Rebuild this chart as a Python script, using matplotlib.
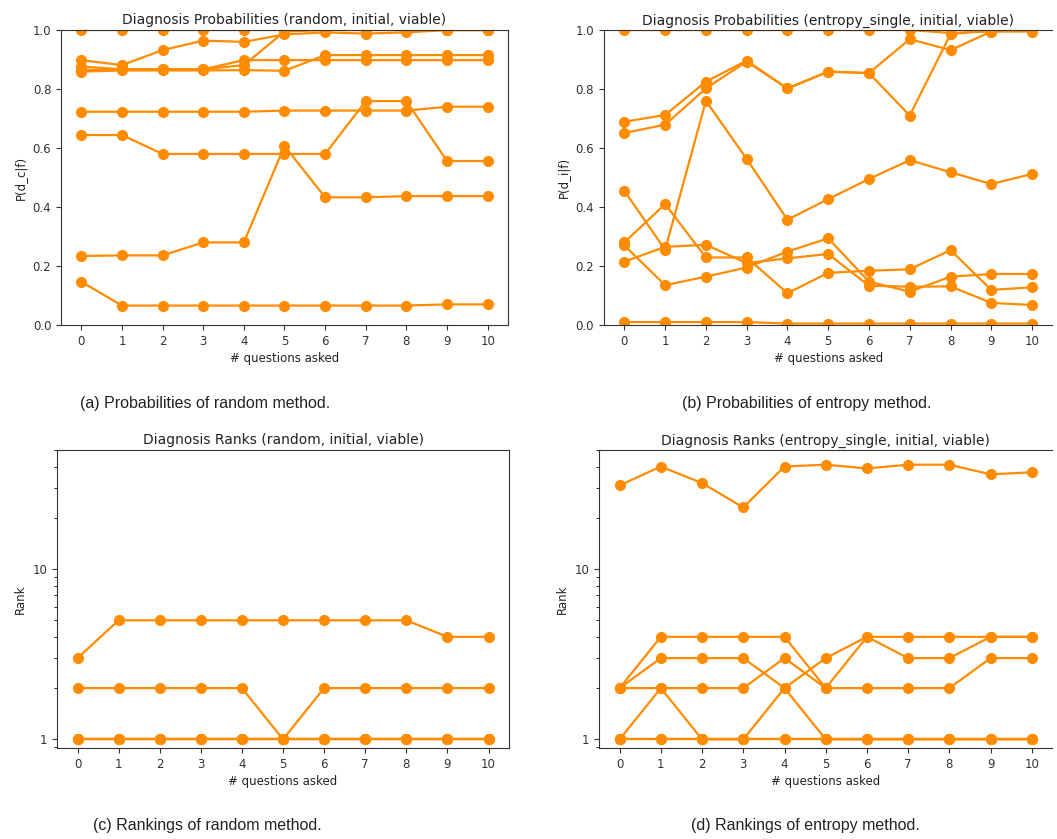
import matplotlib.pyplot as plt
import numpy as np

questions = np.arange(11)

# probabilities, random method
prob_random = [
    [1.0, 1.0, 1.0, 1.0, 1.0, 1.0, 1.0, 1.0, 1.0, 1.0, 1.0],
    [0.898, 0.881, 0.932, 0.964, 0.960, 0.985, 0.992, 0.988, 0.992, 1.0, 1.0],
    [0.876, 0.867, 0.867, 0.867, 0.881, 0.995, 1.0, 1.0, 1.0, 1.0, 1.0],
    [0.864, 0.867, 0.867, 0.867, 0.898, 0.898, 0.898, 0.898, 0.898, 0.898, 0.898],
    [0.859, 0.863, 0.863, 0.863, 0.864, 0.862, 0.915, 0.915, 0.915, 0.915, 0.915],
    [0.723, 0.723, 0.723, 0.723, 0.723, 0.727, 0.727, 0.727, 0.727, 0.740, 0.740],
    [0.644, 0.644, 0.580, 0.580, 0.580, 0.580, 0.580, 0.759, 0.759, 0.556, 0.556],
    [0.234, 0.236, 0.236, 0.280, 0.280, 0.607, 0.433, 0.433, 0.437, 0.437, 0.437],
    [0.147, 0.066, 0.066, 0.066, 0.066, 0.066, 0.066, 0.066, 0.066, 0.070, 0.070],
]

# probabilities, entropy method
prob_entropy = [
    [1.0, 1.0, 1.0, 1.0, 1.0, 1.0, 1.0, 1.0, 0.99, 0.995, 0.995],
    [0.689, 0.712, 0.825, 0.896, 0.802, 0.859, 0.854, 0.969, 0.932, 0.995, 1.0],
    [0.651, 0.679, 0.802, 0.893, 0.802, 0.859, 0.854, 0.710, 0.986, 1.0, 1.0],
    [0.455, 0.255, 0.760, 0.563, 0.357, 0.427, 0.495, 0.559, 0.518, 0.478, 0.512],
    [0.280, 0.410, 0.229, 0.229, 0.108, 0.177, 0.184, 0.189, 0.254, 0.119, 0.128],
    [0.215, 0.265, 0.272, 0.210, 0.226, 0.241, 0.133, 0.130, 0.131, 0.075, 0.068],
    [0.270, 0.135, 0.164, 0.195, 0.249, 0.294, 0.147, 0.113, 0.164, 0.173, 0.173],
    [0.010, 0.010, 0.010, 0.010, 0.005, 0.005, 0.005, 0.005, 0.005, 0.005, 0.005],
]

# ranks, random method
rank_random = [
    [3, 5, 5, 5, 5, 5, 5, 5, 5, 4, 4],
    [2, 2, 2, 2, 2, 1, 2, 2, 2, 2, 2],
    [1, 1, 1, 1, 1, 1, 1, 1, 1, 1, 1],
    [1, 1, 1, 1, 1, 1, 1, 1, 1, 1, 1],
    [1, 1, 1, 1, 1, 1, 1, 1, 1, 1, 1],
]

# ranks, entropy method
rank_entropy = [
    [31, 40, 32, 23, 40, 41, 39, 41, 41, 36, 37],
    [2, 4, 4, 4, 4, 2, 4, 4, 4, 4, 4],
    [2, 3, 3, 3, 2, 3, 4, 3, 3, 4, 4],
    [2, 2, 2, 2, 3, 2, 2, 2, 2, 3, 3],
    [1, 2, 1, 1, 2, 1, 1, 1, 1, 1, 1],
    [1, 1, 1, 1, 1, 1, 1, 1, 1, 1, 1],
    [1, 1, 1, 1, 1, 1, 1, 1, 1, 1, 1],
]

titles = ["Diagnosis Probabilities (random, initial, viable)",
          "Diagnosis Probabilities (entropy_single, initial, viable)",
          "Diagnosis Ranks (random, initial, viable)",
          "Diagnosis Ranks (entropy_single, initial, viable)"]
ylabels = ["P(d_c|f)", "P(d_i|f)", "Rank", "Rank"]
captions = ["(a) Probabilities of random method.",
            "(b) Probabilities of entropy method.",
            "(c) Rankings of random method.",
            "(d) Rankings of entropy method."]

fig = plt.figure(figsize=(10.57, 8.39), dpi=100)
boxes = [[0.0577, 0.6126, 0.4229, 0.3516],
         [0.5714, 0.6126, 0.4243, 0.3516],
         [0.0539, 0.1085, 0.4277, 0.3551],
         [0.5667, 0.1085, 0.4290, 0.3551]]
datasets = [prob_random, prob_entropy, rank_random, rank_entropy]

for i in range(4):
    ax = fig.add_axes(boxes[i])
    for row in datasets[i]:
        ax.plot(questions, row, '-o', color='darkorange', lw=1.6, markersize=7)
    ax.set_xticks(questions)
    ax.set_xlim(-0.5, 10.5)
    if i < 2:
        ax.set_ylim(0, 1)
        ax.set_yticks(np.arange(0, 1.01, 0.2))
    else:
        ax.set_yscale('log')
        ax.set_ylim(0.89, 50)
        ax.set_yticks([1, 10])
        ax.set_yticklabels(['1', '10'])
    ax.tick_params(labelsize=8.5, colors='#333333')
    ax.set_title(titles[i], fontsize=10, pad=4, color='#222222')
    ax.set_xlabel("# questions asked", fontsize=8.5, labelpad=3, color='#222222')
    ax.set_ylabel(ylabels[i], fontsize=8.5, color='#222222')
    for s in ax.spines.values():
        s.set_color('#333333')
    if i % 2 == 1:
        ax.spines['right'].set_visible(False)

cap_x = [0.194, 0.763, 0.196, 0.762]
cap_y = [0.510, 0.510, 0.007, 0.007]
for i in range(4):
    fig.text(cap_x[i], cap_y[i], captions[i], ha='center', va='bottom',
             fontsize=11.5, family='Liberation Sans', color='#222222')

fig.savefig("out.png", dpi=100)
